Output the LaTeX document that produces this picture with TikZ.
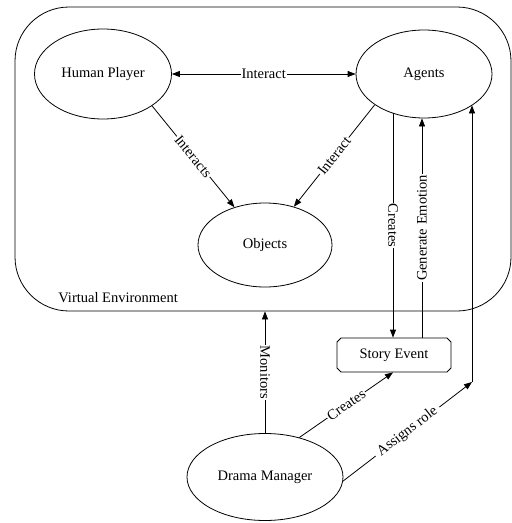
\documentclass[tikz,border=0pt]{standalone}
\usepackage{fontspec}
\setmainfont{Liberation Serif}
\usetikzlibrary{arrows.meta,shapes.geometric,shapes.misc}
\begin{document}
\begin{tikzpicture}[x=1pt,y=-1pt,
  font=\fontsize{14.5}{16}\selectfont,
  line width=0.8pt,
  ell/.style={ellipse, draw, inner sep=0pt},
  lbl/.style={fill=white, inner sep=1pt},
  tip/.tip={Triangle[length=8pt,width=6pt]},
  arr/.style={-tip},
  darr/.style={tip-tip}]
\useasboundingbox (0,0) rectangle (512,523);
% container
\node[draw, rounded corners=54pt, minimum width=496pt, minimum height=304pt, inner sep=0pt] (ve) at (263,159) {};
\node[anchor=base west, inner sep=0pt] (velbl) at (58,302) {Virtual Environment};
% nodes
\node[ell, minimum width=137pt, minimum height=90pt] (hp) at (103,74) {Human Player};
\node[ell, minimum width=136pt, minimum height=88pt] (ag) at (424,74) {Agents};
\node[ell, minimum width=134pt, minimum height=84pt] (obj) at (265,245) {Objects};
\node[ell, minimum width=156pt, minimum height=87pt] (dm) at (265,477) {Drama Manager};
\node[chamfered rectangle, chamfered rectangle xsep=2pt, chamfered rectangle ysep=2pt, draw, minimum width=114pt, minimum height=34pt, inner sep=0pt] (se) at (394,355) {Story Event};
\coordinate (ar) at (472,382);
% connectors
\draw[darr] (hp.east) -- node[lbl] {Interact} (ag.west);
\draw[arr] (hp.-33) -- node[lbl, sloped] {Interacts} (obj.129);
\draw[arr] (ag.212) -- node[lbl, sloped] {Interact} (obj.53);
\draw[arr] ([xshift=-1pt]se.north |- ag.231) -- node[lbl, rotate=-90] {Creates} ([xshift=-1pt]se.north);
\draw[arr] ([xshift=28pt]se.north) -- node[lbl, rotate=90] {Generate Emotion} ([xshift=28pt]se.north |- ag.south);
\draw[arr] (dm.north) -- node[lbl, rotate=-90] {Monitors} (dm.north |- ve.south);
\draw[arr] (dm.49) -- node[lbl, sloped] {Creates} ([xshift=-1pt]se.south);
\draw[arr] (dm.-3) -- node[lbl, sloped, inner sep=4pt] {Assigns role} (ar);
\draw[arr] (ar) -- (ar |- ag.-33);
\end{tikzpicture}
\end{document}
